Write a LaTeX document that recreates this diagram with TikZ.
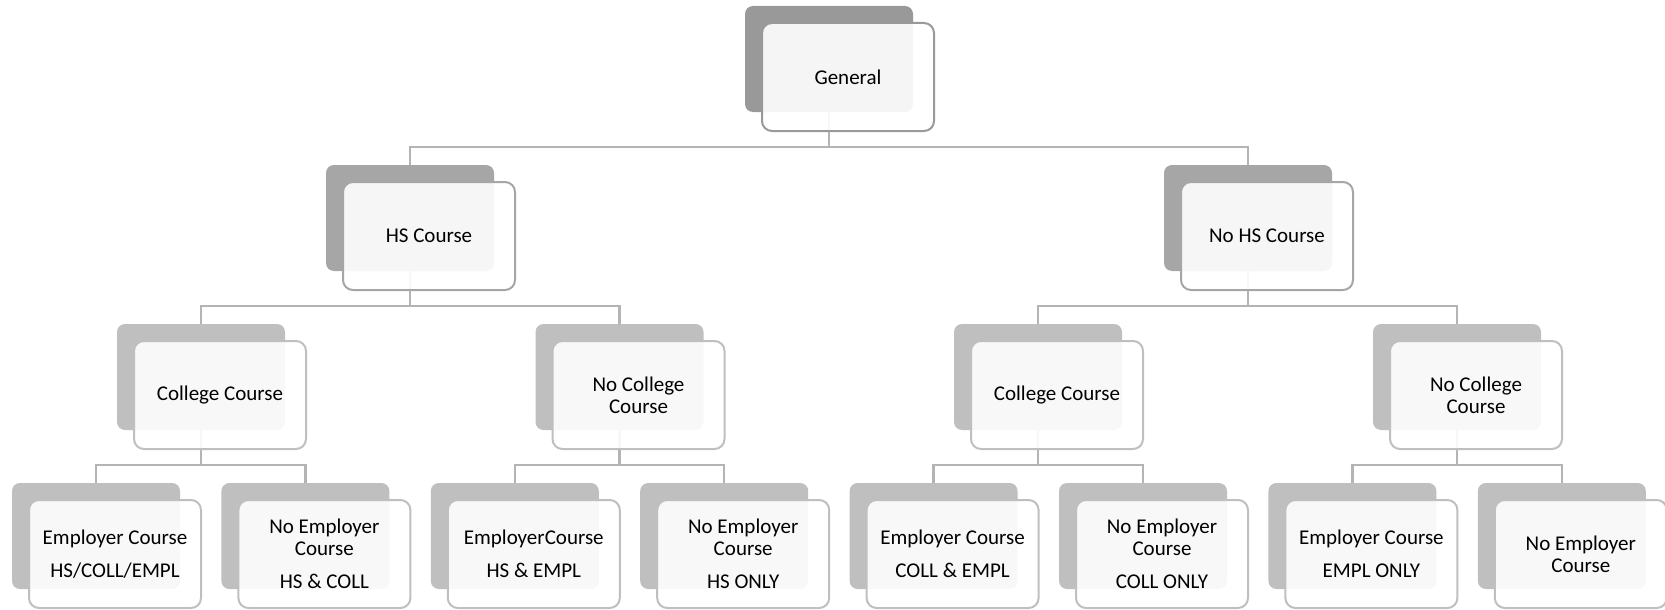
\documentclass[tikz,border=0pt]{standalone}
\usepackage{fontspec}
\setmainfont{Carlito}
\usetikzlibrary{backgrounds}

\definecolor{lvlzero}{HTML}{999999}
\definecolor{lvlone}{HTML}{A6A6A6}
\definecolor{lvltwo}{HTML}{BFBFBF}
\definecolor{linkgray}{HTML}{B4B4B4}

\begin{document}
\begin{tikzpicture}[x=1pt, y=-1pt,
    backbox/.style={rectangle, rounded corners=8pt, minimum width=168pt, minimum height=106pt, inner sep=0pt, fill=#1},
    frontbox/.style={rectangle, rounded corners=10pt, draw=#1, line width=2pt, fill=white, fill opacity=0.9, text opacity=1,
        minimum width=172pt, minimum height=108pt, inner sep=0pt, align=center, xshift=19pt, yshift=-18pt,
        font=\fontsize{21}{22}\selectfont},
    link/.style={draw=linkgray, line width=2.4pt}]
    \useasboundingbox (0,0) rectangle (1665,610);

    % back cards
    \node[backbox=lvlzero] (gen) at (829,59) {};

    \node[backbox=lvlone] (hs) at (410,218) {};
    \node[backbox=lvlone] (nohs) at (1248,218) {};

    \node[backbox=lvltwo] (hscol) at (201,377) {};
    \node[backbox=lvltwo] (hsnocol) at (619.5,377) {};
    \node[backbox=lvltwo] (nohscol) at (1038,377) {};
    \node[backbox=lvltwo] (nohsnocol) at (1457,377) {};

    \node[backbox=lvltwo] (hscolemp) at (96,536) {};
    \node[backbox=lvltwo] (hscolnoemp) at (305.4,536) {};
    \node[backbox=lvltwo] (hsnocolemp) at (514.8,536) {};
    \node[backbox=lvltwo] (hsnocolnoemp) at (724.2,536) {};
    \node[backbox=lvltwo] (nohscolemp) at (933.6,536) {};
    \node[backbox=lvltwo] (nohscolnoemp) at (1143,536) {};
    \node[backbox=lvltwo] (nohsnocolemp) at (1352.4,536) {};
    \node[backbox=lvltwo] (nohsnocolnoemp) at (1561.8,536) {};

    % front cards
    \node[frontbox=lvlzero] (genf) at (gen) {General};

    \node[frontbox=lvlone] (hsf) at (hs) {HS Course};
    \node[frontbox=lvlone] (nohsf) at (nohs) {No HS Course};

    \node[frontbox=lvltwo] (hscolf) at (hscol) {College Course};
    \node[frontbox=lvltwo] (hsnocolf) at (hsnocol) {No College\\Course};
    \node[frontbox=lvltwo] (nohscolf) at (nohscol) {College Course};
    \node[frontbox=lvltwo] (nohsnocolf) at (nohsnocol) {No College\\Course};

    \node[frontbox=lvltwo] (hscolempf) at (hscolemp) {Employer Course\\[11pt]HS/COLL/EMPL};
    \node[frontbox=lvltwo] (hscolnoempf) at (hscolnoemp) {No Employer\\Course\\[11pt]HS \& COLL};
    \node[frontbox=lvltwo] (hsnocolempf) at (hsnocolemp) {EmployerCourse\\[11pt]HS \& EMPL};
    \node[frontbox=lvltwo] (hsnocolnoempf) at (hsnocolnoemp) {No Employer\\Course\\[11pt]HS ONLY};
    \node[frontbox=lvltwo] (nohscolempf) at (nohscolemp) {Employer Course\\[11pt]COLL \& EMPL};
    \node[frontbox=lvltwo] (nohscolnoempf) at (nohscolnoemp) {No Employer\\Course\\[11pt]COLL ONLY};
    \node[frontbox=lvltwo] (nohsnocolempf) at (nohsnocolemp) {Employer Course\\[11pt]EMPL ONLY};
    \node[frontbox=lvltwo] (nohsnocolnoempf) at (nohsnocolnoemp) {No Employer\\Course};

    % connectors
    \begin{scope}[on background layer]
        \draw[link] (gen.south) -- ++(0,35) -| (hs.north);
        \draw[link] (gen.south) -- ++(0,35) -| (nohs.north);

        \draw[link] (hs.south) -- ++(0,35) -| (hscol.north);
        \draw[link] (hs.south) -- ++(0,35) -| (hsnocol.north);
        \draw[link] (nohs.south) -- ++(0,35) -| (nohscol.north);
        \draw[link] (nohs.south) -- ++(0,35) -| (nohsnocol.north);

        \draw[link] (hscol.south) -- ++(0,35) -| (hscolemp.north);
        \draw[link] (hscol.south) -- ++(0,35) -| (hscolnoemp.north);
        \draw[link] (hsnocol.south) -- ++(0,35) -| (hsnocolemp.north);
        \draw[link] (hsnocol.south) -- ++(0,35) -| (hsnocolnoemp.north);
        \draw[link] (nohscol.south) -- ++(0,35) -| (nohscolemp.north);
        \draw[link] (nohscol.south) -- ++(0,35) -| (nohscolnoemp.north);
        \draw[link] (nohsnocol.south) -- ++(0,35) -| (nohsnocolemp.north);
        \draw[link] (nohsnocol.south) -- ++(0,35) -| (nohsnocolnoemp.north);
    \end{scope}
\end{tikzpicture}
\end{document}
